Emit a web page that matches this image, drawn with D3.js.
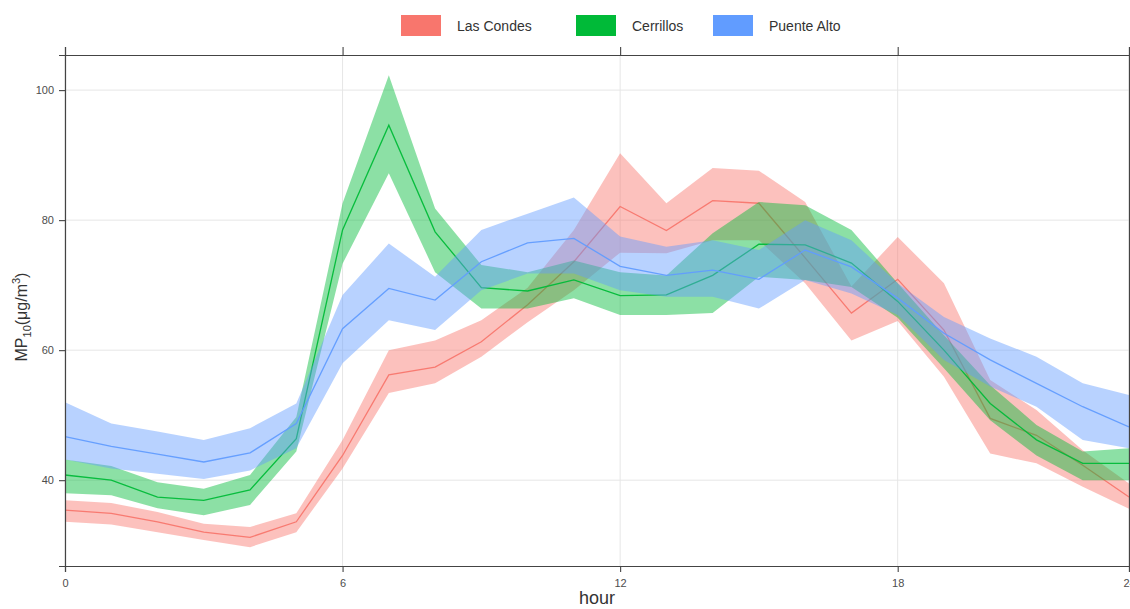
<!DOCTYPE html>
<html>
<head>
<meta charset="utf-8">
<script src="https://cdn.jsdelivr.net/npm/d3@7"></script>
<style>
  body { margin: 0; background: #fff; }
  svg { display: block; }
  .txt { font-family: "Liberation Sans Narrow", "Arial Narrow", "Liberation Sans", Arial, sans-serif; }
</style>
</head>
<body>
<svg id="chart" width="1130" height="609"></svg>
<script>
const hours = d3.range(0, 24);
const xTicks = [0, 6, 12, 18, 23];
const xTickLabels = ["0", "6", "12", "18", "24"];
const yTicks = [40, 60, 80, 100];
const seriesNames = ["Las Condes", "Cerrillos", "Puente Alto"];
const seriesColors = ["#F8766D", "#00BA38", "#619CFF"];

const lasCondesMean = [35.4,34.9,33.6,32.0,31.2,33.6,43.8,56.2,57.4,61.3,67.0,73.6,82.1,78.4,83.0,82.6,74.2,65.7,70.9,63.1,49.5,46.9,42.3,37.4];
const lasCondesLow  = [33.6,33.2,32.0,30.8,29.7,32.0,41.8,53.4,54.9,59.0,64.3,69.2,75.0,74.9,76.9,76.9,70.3,61.5,64.5,55.9,44.1,42.6,39.0,35.6];
const lasCondesHigh = [36.9,36.5,35.1,33.3,32.8,34.9,46.2,60.0,61.5,64.6,69.6,78.5,90.3,82.6,88.0,87.6,82.8,69.8,77.4,70.3,55.4,50.8,44.6,39.5];

const cerrillosMean = [40.8,40.0,37.4,36.9,38.5,46.4,78.5,94.6,78.2,69.6,69.1,70.8,68.4,68.5,71.5,76.3,76.2,73.4,67.5,60.0,51.8,46.2,42.6,42.6];
const cerrillosLow  = [38.0,37.7,35.7,34.6,36.2,44.4,73.3,87.2,72.0,66.4,66.4,68.0,65.4,65.4,65.7,71.3,70.8,69.7,65.0,57.2,49.2,43.8,40.0,40.0];
const cerrillosHigh = [43.2,42.2,39.7,38.7,40.8,49.7,82.6,102.3,81.8,73.1,72.0,73.8,72.0,71.5,78.0,82.8,82.3,78.5,70.3,62.3,54.6,48.5,44.4,44.9];

const puenteAltoMean = [46.7,45.2,44.0,42.8,44.2,48.7,63.3,69.5,67.7,73.6,76.5,77.2,72.9,71.5,72.3,70.9,75.4,72.8,68.0,62.6,58.5,54.9,51.3,48.2];
const puenteAltoLow  = [43.2,41.8,41.0,40.2,41.5,44.9,58.0,64.6,63.1,69.2,71.8,71.8,69.2,68.2,68.2,66.4,70.8,68.7,65.4,58.5,54.4,51.3,46.2,44.9];
const puenteAltoHigh = [52.0,48.7,47.5,46.2,48.0,51.8,68.5,76.4,71.3,78.5,81.0,83.5,77.5,75.9,76.9,75.4,80.0,76.9,70.3,65.1,61.8,59.0,54.9,53.1];

const series = [
  { name: seriesNames[0], color: seriesColors[0], mean: lasCondesMean, low: lasCondesLow, high: lasCondesHigh },
  { name: seriesNames[1], color: seriesColors[1], mean: cerrillosMean, low: cerrillosLow, high: cerrillosHigh },
  { name: seriesNames[2], color: seriesColors[2], mean: puenteAltoMean, low: puenteAltoLow, high: puenteAltoHigh }
];

const svg = d3.select("#chart");
const L = 65, R = 1129, T = 55, B = 566;
const x = d3.scaleLinear().domain([0, 23]).range([L, R]);
const y = d3.scaleLinear().domain([26.8, 105.4]).range([B, T]);

// gridlines
const grid = svg.append("g");
grid.selectAll(".gx").data(xTicks).join("line")
  .attr("x1", d => x(d)).attr("x2", d => x(d)).attr("y1", T).attr("y2", B)
  .attr("stroke", "#e6e6e6").attr("stroke-width", 1);
grid.selectAll(".gy").data(yTicks).join("line")
  .attr("x1", L).attr("x2", R).attr("y1", d => y(d)).attr("y2", d => y(d))
  .attr("stroke", "#e6e6e6").attr("stroke-width", 1);

// clip
svg.append("clipPath").attr("id", "clip").append("rect")
  .attr("x", L).attr("y", T).attr("width", R - L).attr("height", B - T);

const plot = svg.append("g").attr("clip-path", "url(#clip)");
const area = d3.area().x((d, i) => x(hours[i])).y0(d => y(d[0])).y1(d => y(d[1]));
const line = d3.line().x((d, i) => x(hours[i])).y(d => y(d));

series.forEach(s => {
  const band = s.low.map((v, i) => [v, s.high[i]]);
  plot.append("path").datum(band).attr("d", area)
    .attr("fill", s.color).attr("fill-opacity", 0.45).attr("stroke", "none");
  plot.append("path").datum(s.mean).attr("d", line)
    .attr("fill", "none").attr("stroke", s.color).attr("stroke-width", 1.3)
    .attr("stroke-opacity", 0.95);
});

// Axes
const fmtX = (d, i) => xTickLabels[xTicks.indexOf(d)];
const xAxis = svg.append("g").attr("transform", `translate(0,${B})`)
  .call(d3.axisBottom(x).tickValues(xTicks).tickFormat(fmtX).tickSize(6).tickPadding(7));
const xAxisTop = svg.append("g").attr("transform", `translate(0,${T})`)
  .call(d3.axisTop(x).tickValues(xTicks).tickFormat("").tickSize(8));
const yAxis = svg.append("g").attr("transform", `translate(${L},0)`)
  .call(d3.axisLeft(y).tickValues(yTicks).tickSize(6).tickPadding(5));
const yAxisRight = svg.append("g").attr("transform", `translate(${R},0)`)
  .call(d3.axisRight(y).tickValues(yTicks).tickFormat("").tickSize(6));

[xAxis, xAxisTop, yAxis, yAxisRight].forEach(g => {
  g.select(".domain").attr("stroke", "#444").attr("stroke-width", 1.2);
  g.selectAll(".tick line").attr("stroke", "#444").attr("stroke-width", 1.1);
  g.selectAll("text").attr("class", "txt").attr("font-size", 11).attr("fill", "#4d4d4d");
});

// Axis titles
svg.append("text").attr("class", "txt")
  .attr("x", (L + R) / 2).attr("y", 604).attr("text-anchor", "middle")
  .attr("font-size", 18).attr("fill", "#333").text("hour");

const yt = svg.append("text").attr("class", "txt")
  .attr("transform", `translate(27,${317}) rotate(-90)`)
  .attr("text-anchor", "middle").attr("font-size", 16).attr("fill", "#333");
yt.append("tspan").text("MP");
yt.append("tspan").attr("font-size", 11).attr("dy", 4).text("10");
yt.append("tspan").attr("dy", -4).text("(μg/m");
yt.append("tspan").attr("font-size", 11).attr("dy", -7).text("3");
yt.append("tspan").attr("dy", 7).text(")");

// Legend
const legendX = [401, 576, 713];
const lg = svg.append("g");
series.forEach((s, i) => {
  lg.append("rect").attr("x", legendX[i]).attr("y", 15).attr("width", 40).attr("height", 21)
    .attr("fill", s.color);
  lg.append("text").attr("class", "txt")
    .attr("x", legendX[i] + 56).attr("y", 31)
    .attr("font-size", 14).attr("fill", "#333").text(s.name);
});
</script>
</body>
</html>
